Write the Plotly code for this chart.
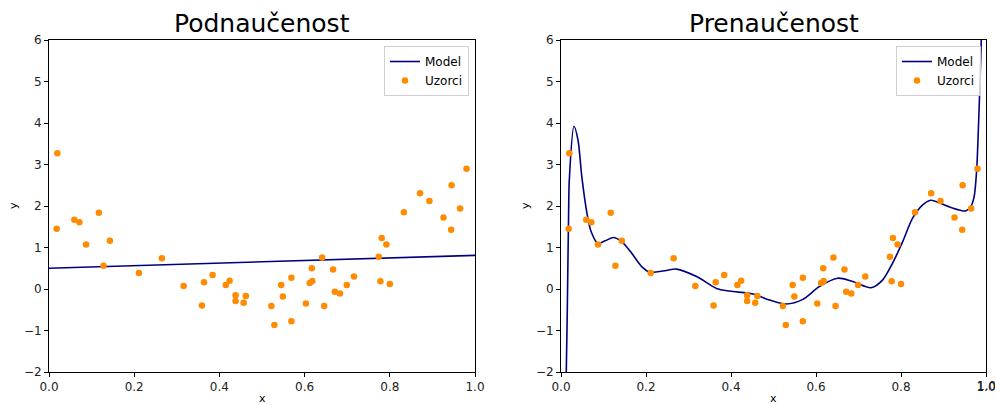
import plotly.graph_objects as go

# ---- data ----
sample_x = [0.0196, 0.018, 0.0595, 0.0713, 0.087, 0.117, 0.128, 0.143, 0.211, 0.265,
            0.316, 0.359, 0.364, 0.384, 0.415, 0.424, 0.438, 0.438, 0.457, 0.462,
            0.522, 0.529, 0.545, 0.549, 0.569, 0.569, 0.603, 0.612, 0.618, 0.617,
            0.641, 0.646, 0.667, 0.671, 0.683, 0.699, 0.716, 0.774, 0.781, 0.792,
            0.778, 0.800, 0.833, 0.871, 0.893, 0.926, 0.945, 0.944, 0.965, 0.980]
sample_y = [3.27, 1.45, 1.67, 1.61, 1.07, 1.84, 0.56, 1.16, 0.385, 0.74,
            0.072, -0.40, 0.16, 0.34, 0.096, 0.20, -0.15, -0.29, -0.33, -0.17,
            -0.41, -0.87, 0.096, -0.18, 0.27, -0.78, -0.35, 0.145, 0.19, 0.50,
            0.76, -0.41, 0.47, -0.064, -0.11, 0.096, 0.30, 0.78, 1.23, 1.075,
            0.185, 0.12, 1.85, 2.31, 2.12, 1.72, 2.50, 1.43, 1.94, 2.90]

under_x = [0.0, 1.0]
under_y = [0.50, 0.81]

over_x = [0.0110, 0.0124, 0.0148, 0.018, 0.0195, 0.0305, 0.040, 0.049, 0.061, 0.071,
          0.0868, 0.104, 0.123, 0.143, 0.1665, 0.190, 0.2095, 0.2135, 0.2447, 0.272,
          0.319, 0.366, 0.397, 0.452, 0.491, 0.530, 0.569, 0.608, 0.651, 0.686,
          0.7295, 0.757, 0.780, 0.804, 0.827, 0.8505, 0.870, 0.913, 0.952, 0.964,
          0.972, 0.978, 0.982, 0.986, 0.9895]
over_y = [-2.6, -2.0, -0.5, 1.90, 2.62, 3.92, 3.59, 2.70, 1.83, 1.38,
          1.10, 1.16, 1.24, 1.14, 0.86, 0.54, 0.40, 0.40, 0.44, 0.48,
          0.30, 0.015, -0.05, -0.12, -0.265, -0.36, -0.25, 0.06, 0.26, 0.18,
          0.03, 0.22, 0.62, 1.14, 1.70, 2.02, 2.14, 1.98, 1.88, 1.98,
          2.22, 2.86, 3.83, 5.03, 6.2]

titles = ["Podnaučenost", "Prenaučenost"]
x_ticks = [0.0, 0.2, 0.4, 0.6, 0.8, 1.0]
y_ticks = [-2, -1, 0, 1, 2, 3, 4, 5, 6]

W, H = 995, 405
LINE = "#000080"
DOT = "#FF8C00"
FONT = "DejaVu Sans"

fig = go.Figure()

panels = [
    dict(xa="x", ya="y", mx=under_x, my=under_y, legend="legend", shape="linear"),
    dict(xa="x2", ya="y2", mx=over_x, my=over_y, legend="legend2", shape="spline"),
]
for p in panels:
    fig.add_trace(go.Scatter(x=p["mx"], y=p["my"], mode="lines", name="Model",
                             line=dict(color=LINE, width=1.6, shape=p["shape"], smoothing=0.8),
                             xaxis=p["xa"], yaxis=p["ya"], legend=p["legend"]))
    fig.add_trace(go.Scatter(x=sample_x, y=sample_y, mode="markers", name="Uzorci",
                             marker=dict(color=DOT, size=6.5, line=dict(width=0)),
                             xaxis=p["xa"], yaxis=p["ya"], legend=p["legend"]))

# axes geometry (pixels)
left_px = [(49, 475), (561, 986)]
top_px, bot_px = 40, 372
ydom = [1 - bot_px / H, 1 - top_px / H]

axis_common = dict(showgrid=False, zeroline=False, showline=True, linecolor="black",
                   linewidth=1, mirror=True, ticks="outside", ticklen=4, tickwidth=1,
                   tickcolor="black", automargin=False, ticklabeloverflow="allow",
                   tickfont=dict(family=FONT, size=12, color="#222"))

layout = dict(width=W, height=H, margin=dict(l=0, r=0, t=0, b=0),
              paper_bgcolor="white", plot_bgcolor="white",
              font=dict(family=FONT, size=12, color="black"), showlegend=True)

for i, (a, b) in enumerate(left_px):
    sfx = "" if i == 0 else str(i + 1)
    layout["xaxis" + sfx] = dict(axis_common, domain=[a / W, b / W], range=[0, 1],
                                 tickvals=x_ticks, tickformat=".1f", anchor="y" + sfx)
    layout["yaxis" + sfx] = dict(axis_common, domain=ydom, range=[-2, 6],
                                 tickvals=y_ticks, anchor="x" + sfx)

legend_common = dict(xanchor="right", yanchor="top", bgcolor="rgba(255,255,255,0.8)",
                     bordercolor="#d0d0d0", borderwidth=1,
                     font=dict(family=FONT, size=12, color="black"),
                     itemwidth=30, tracegroupgap=0)
layout["legend"] = dict(legend_common, x=469 / W, y=1 - 46 / H)
layout["legend2"] = dict(legend_common, x=981 / W, y=1 - 46 / H)

annotations = []
for (a, b), t in zip(left_px, titles):
    annotations.append(dict(text=t, x=(a + b) / 2 / W, y=1 - 24 / H, xref="paper", yref="paper",
                            xanchor="center", yanchor="middle", showarrow=False,
                            font=dict(family=FONT, size=25, color="black")))
    # x label
    annotations.append(dict(text="x", x=(a + b) / 2 / W, y=-0.004, xref="paper", yref="paper",
                            xanchor="center", yanchor="bottom", showarrow=False,
                            font=dict(family=FONT, size=11, color="black")))
    # y label
    annotations.append(dict(text="y", x=(a - 36) / W, y=1 - 206 / H, xref="paper", yref="paper",
                            xanchor="center", yanchor="middle", showarrow=False, textangle=-90,
                            font=dict(family=FONT, size=11, color="black")))

# last tick label of the right panel sits on the page edge; plotly drops it, so draw it explicitly
annotations.append(dict(text=f"{x_ticks[-1]:.1f}", x=x_ticks[-1], xref="x2",
                        y=1 - 386 / H, yref="paper", xanchor="center", yanchor="middle",
                        showarrow=False, font=dict(family=FONT, size=12, color="#222")))
layout["annotations"] = annotations

fig.update_layout(**layout)
fig.write_html("out.html", config={"displayModeBar": False},
               post_script="document.body.style.margin='0';document.body.style.overflow='hidden';")
